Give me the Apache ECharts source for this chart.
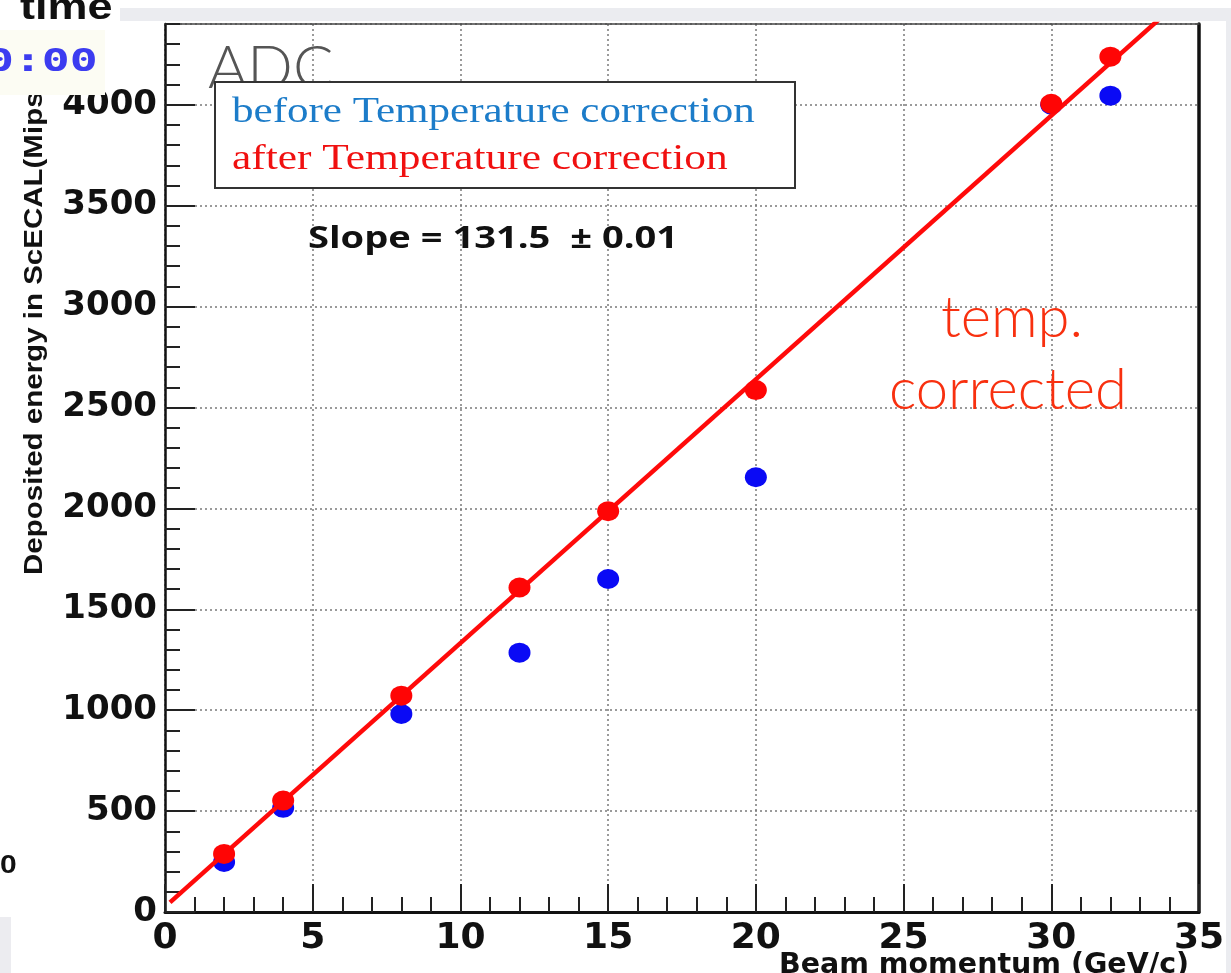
<!DOCTYPE html>
<html><head><meta charset="utf-8">
<script src="https://cdn.jsdelivr.net/npm/echarts@6/dist/echarts.min.js"></script>
<style>html,body{margin:0;padding:0;background:#fff}#c{width:1231px;height:973px}</style>
</head><body><div id="c"></div>
<script>
// Data
const momentum = [2, 4, 8, 12, 15, 20, 30, 32];
const beforeCorr = [248, 516, 981, 1285, 1650, 2154, 4000, 4045];
const afterCorr = [288, 552, 1072, 1608, 1986, 2586, 4005, 4238];
const fitX = [0.17, 34];
const fitY = [48, 4469];
const xTicks = [0, 5, 10, 15, 20, 25, 30, 35];
const yRange = [0, 4400];
const legendLabels = ['before Temperature correction', 'after Temperature correction'];
const slopeLabel = 'Slope = 131.5  \u00b1 0.01';

const chart = echarts.init(document.getElementById('c'), null, {renderer: 'canvas'});
const tickFont = {fontFamily: 'DejaVu Sans', fontWeight: 'bold', color: '#111'};
const dotted = {color: '#7a7a7a', width: 1.5, type: [2, 3]};
const plain = v => String(v);

const option = {
  animation: false,
  backgroundColor: '#ffffff',
  grid: {left: 165, right: 32, top: 24, bottom: 61, containLabel: false},
  xAxis: [
    {
      type: 'value', min: xTicks[0], max: xTicks[xTicks.length - 1], interval: 5,
      position: 'bottom',
      axisLine: {show: true, onZero: false, lineStyle: {color: '#111', width: 3}},
      axisTick: {show: true, inside: true, length: 28, lineStyle: {color: '#222', width: 2}},
      minorTick: {show: true, splitNumber: 5, length: 15, lineStyle: {color: '#222', width: 2}},
      axisLabel: Object.assign({fontSize: 36, margin: 9, formatter: plain}, tickFont),
      splitLine: {show: true, lineStyle: dotted}
    },
    {
      type: 'value', min: xTicks[0], max: xTicks[xTicks.length - 1], position: 'top',
      axisLine: {show: true, onZero: false, lineStyle: {color: '#444', width: 1.5}},
      axisTick: {show: false}, axisLabel: {show: false}, splitLine: {show: false}
    }
  ],
  yAxis: [
    {
      type: 'value', min: yRange[0], max: yRange[1], interval: 500, position: 'left',
      axisLine: {show: true, onZero: false, lineStyle: {color: '#111', width: 2.5}},
      axisTick: {show: true, inside: true, length: 30, lineStyle: {color: '#222', width: 2}},
      axisLabel: Object.assign({fontSize: 34, margin: 8, showMaxLabel: false, formatter: plain}, tickFont),
      splitLine: {show: true, lineStyle: dotted}
    },
    {
      type: 'value', min: yRange[0], max: yRange[1], interval: 100, position: 'left',
      axisLine: {show: false},
      axisTick: {show: true, inside: true, length: 15, lineStyle: {color: '#222', width: 2}},
      axisLabel: {show: false}, splitLine: {show: false}
    },
    {
      type: 'value', min: yRange[0], max: yRange[1], position: 'right',
      axisLine: {show: true, onZero: false, lineStyle: {color: '#111', width: 3.5}},
      axisTick: {show: false}, axisLabel: {show: false}, splitLine: {show: false}
    }
  ],
  series: [
    {
      name: legendLabels[0], type: 'scatter', xAxisIndex: 0, yAxisIndex: 0,
      data: momentum.map((x, i) => [x, beforeCorr[i]]),
      symbol: 'circle', symbolSize: [22, 20],
      itemStyle: {color: '#0a0af5', opacity: 1}, z: 3
    },
    {
      name: 'fit', type: 'line', xAxisIndex: 0, yAxisIndex: 0,
      data: fitX.map((x, i) => [x, fitY[i]]),
      showSymbol: false, symbol: 'none', clip: true,
      lineStyle: {color: '#ff0a0a', width: 4.5}, z: 4
    },
    {
      name: legendLabels[1], type: 'scatter', xAxisIndex: 0, yAxisIndex: 0,
      data: momentum.map((x, i) => [x, afterCorr[i]]),
      symbol: 'circle', symbolSize: [22, 20],
      itemStyle: {color: '#ff0505', opacity: 1}, z: 5
    }
  ],
  graphic: [
    // background decorations of the screenshot
    {type: 'rect', z: 100, shape: {x: 120, y: 8, width: 1111, height: 13}, style: {fill: '#ebecf0'}},
    {type: 'rect', z: 100, shape: {x: 1226, y: 8, width: 5, height: 965}, style: {fill: '#ebecf0'}},
    {type: 'rect', z: 100, shape: {x: 0, y: 917, width: 11, height: 56}, style: {fill: '#ececf0'}},
    // y axis title
    {type: 'text', z: 90, x: 35.5, y: 575, rotation: Math.PI / 2, scaleX: 1.18,
      style: {text: 'Deposited energy in ScECAL(Mips)', fontFamily: 'Liberation Sans', fontWeight: 'bold', fontSize: 25, fill: '#111', align: 'left', verticalAlign: 'middle'}},
    {type: 'rect', z: 101, shape: {x: 0, y: 30, width: 105, height: 65}, style: {fill: '#fcfcf3'}},
    {type: 'text', z: 102, x: -14, y: 63, scaleX: 1.45,
      style: {text: '0:00', fontFamily: 'DejaVu Sans Mono', fontWeight: 'bold', fontSize: 32, fill: '#3c3cf0', align: 'left', verticalAlign: 'middle'}},
    {type: 'text', z: 102, x: 20, y: 27, scaleX: 1.25,
      style: {text: 'time', fontFamily: 'Liberation Sans', fontWeight: 'bold', fontSize: 36, fill: '#111', align: 'left', verticalAlign: 'bottom'}},
    {type: 'text', z: 102, x: 0, y: 866, scaleX: 1.2,
      style: {text: '0', fontFamily: 'Liberation Sans', fontWeight: 'bold', fontSize: 25, fill: '#111', align: 'left', verticalAlign: 'middle'}},
    // x axis title (cut at bottom)
    {type: 'text', z: 90, x: 984, y: 951,
      style: {text: 'Beam momentum (GeV/c)', fontFamily: 'DejaVu Sans', fontWeight: 'bold', fontSize: 28.5, fill: '#111', align: 'center', verticalAlign: 'top'}},
    // ADC
    {type: 'text', z: 95, x: 208, y: 69,
      style: {text: 'ADC', fontFamily: 'Lato', fontWeight: 300, fontSize: 60, fill: '#555555', align: 'left', verticalAlign: 'middle'}},
    // legend box
    {type: 'rect', z: 96, shape: {x: 215, y: 82, width: 580, height: 106}, style: {fill: '#ffffff', stroke: '#333333', lineWidth: 2}},
    {type: 'text', z: 97, x: 232, y: 113, scaleX: 1.23,
      style: {text: legendLabels[0], fontFamily: 'Liberation Serif', fontSize: 35, fill: '#1c7cc9', align: 'left', verticalAlign: 'middle'}},
    {type: 'text', z: 97, x: 232, y: 160, scaleX: 1.24,
      style: {text: legendLabels[1], fontFamily: 'Liberation Serif', fontSize: 35, fill: '#f01010', align: 'left', verticalAlign: 'middle'}},
    // slope
    {type: 'text', z: 97, x: 308, y: 239, scaleX: 1.27,
      style: {text: slopeLabel, fontFamily: 'Open Sans', fontWeight: 'bold', fontSize: 30, fill: '#111', align: 'left', verticalAlign: 'middle'}},
    // temp. corrected
    {type: 'text', z: 97, x: 1012, y: 318,
      style: {text: 'temp.', fontFamily: 'Lato', fontWeight: 300, fontSize: 58, fill: '#f8300f', align: 'center', verticalAlign: 'middle'}},
    {type: 'text', z: 97, x: 1008, y: 390,
      style: {text: 'corrected', fontFamily: 'Lato', fontWeight: 300, fontSize: 58, fill: '#f8300f', align: 'center', verticalAlign: 'middle'}}
  ]
};
chart.setOption(option);
</script>
</body></html>
